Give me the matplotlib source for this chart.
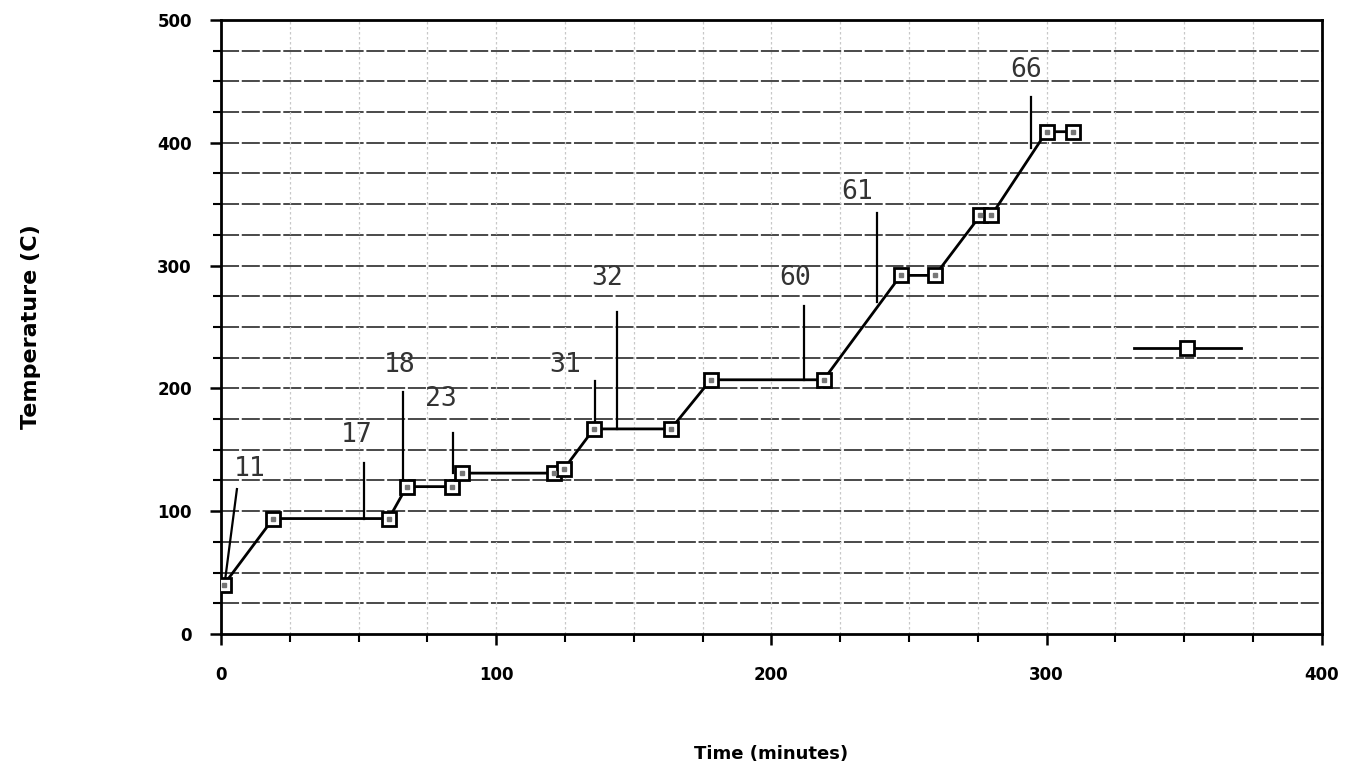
import matplotlib.pyplot as plt
from matplotlib.ticker import MultipleLocator

# Data
time_min = [1, 19, 61, 67.5, 84, 87.5, 121, 124.5, 135.5, 163.5,
            178, 219, 247, 259.5, 276, 280, 300, 309.5]
temp_c = [40, 94, 94, 120, 120, 131, 131, 134, 167, 167,
          207, 207, 292, 292, 341, 341, 409, 409]

# Annotations: label, text position, pointer line start/end
ann_labels = ["11", "17", "18", "23", "31", "32", "60", "61", "66"]
ann_text_x = [10.5, 49.5, 65, 80, 125, 140.5, 208.5, 231, 292.5]
ann_text_y = [134, 162, 219, 191, 219, 290, 290, 360, 459]
ann_x0 = [5.8, 52, 66, 84.4, 136, 144, 212, 238.5, 294.5]
ann_y0 = [118, 139, 197, 164, 206, 262, 267, 343, 437]
ann_x1 = [1.5, 52, 66, 84.4, 136, 144, 212, 238.5, 294.5]
ann_y1 = [44, 94, 120, 131, 167, 167, 207, 270, 396]

fig = plt.figure(figsize=(13.64, 7.67), dpi=100)
ax = fig.add_axes([0.162, 0.1734, 0.807, 0.8006])

ax.set_xlim(0, 400)
ax.set_ylim(0, 500)

ax.xaxis.set_major_locator(MultipleLocator(100))
ax.xaxis.set_minor_locator(MultipleLocator(25))
ax.yaxis.set_major_locator(MultipleLocator(100))
ax.yaxis.set_minor_locator(MultipleLocator(25))

# grid
for y in range(25, 500, 25):
    ax.axhline(y, color="#3a3a3a", lw=1.3, ls=(0, (10, 1.5)), zorder=1)
for x in range(25, 400, 25):
    ax.axvline(x, color="#c8c8c8", lw=0.9, ls=(0, (2, 2)), zorder=1)

for s in ax.spines.values():
    s.set_linewidth(2)
    s.set_color("black")

ax.tick_params(axis="both", which="major", length=8, width=1.8, direction="out")
ax.tick_params(axis="both", which="minor", length=6, width=1.5, direction="out")
ax.tick_params(axis="x", which="major", pad=15)
ax.tick_params(axis="y", which="major", pad=13)
for lab in ax.get_xticklabels() + ax.get_yticklabels():
    lab.set_fontweight("bold")
    lab.set_fontsize(12)
    lab.set_family("DejaVu Sans")

# data line
line, = ax.plot(time_min, temp_c, color="black", lw=2, marker="s", ms=10,
                mfc="white", mec="black", mew=2, zorder=4)
ax.plot(time_min, temp_c, ls="none", marker="s", ms=3, mfc="#777777",
        mec="#777777", zorder=5)

# annotations
for lab, tx, ty, x0, y0, x1, y1 in zip(ann_labels, ann_text_x, ann_text_y,
                                       ann_x0, ann_y0, ann_x1, ann_y1):
    ax.plot([x0, x1], [y0, y1], color="black", lw=1.6, zorder=3)
    ax.text(tx, ty, lab, family="DejaVu Sans Mono", fontsize=19,
            color="#333333", ha="center", va="center", zorder=6)

# legend sample without text
leg = ax.legend([line], [""], loc="center", bbox_to_anchor=(0.878, 0.463),
                frameon=False, handlelength=5.5, borderpad=0, handletextpad=0,
                fontsize=14)

ax.set_xlabel("Time (minutes)", fontsize=13, fontweight="bold", labelpad=44)
ax.set_ylabel("Temperature (C)", fontsize=16, fontweight="bold", labelpad=84)

fig.savefig("out.png", dpi=100)
